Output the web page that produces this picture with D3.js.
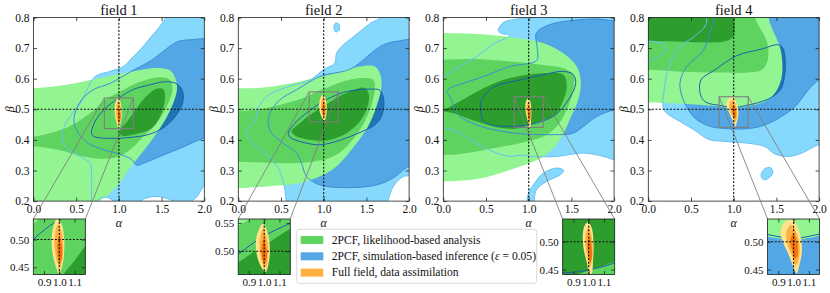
<!DOCTYPE html>
<html><head><meta charset="utf-8">
<script src="https://cdn.jsdelivr.net/npm/d3@7"></script>
<style>
body{margin:0;background:#fff}
text{font-family:"Liberation Serif","DejaVu Serif",serif;fill:#111}
</style>
</head><body>
<svg id="c" width="830" height="293"></svg>
<script>
// ---------------- data ----------------
const fieldTitles = ["field 1", "field 2", "field 3", "field 4"];
const alphaTicks = [0.0, 0.5, 1.0, 1.5, 2.0];
const betaTicks = [0.2, 0.3, 0.4, 0.5, 0.6, 0.7, 0.8];
const alphaDomain = [0, 2];
const betaDomain = [0.2, 0.8];
const trueAlpha = 1.0, trueBeta = 0.5;
const insetAlpha = [0.83, 1.17];
const insetBeta = [[0.437, 0.537], [0.459, 0.557], [0.441, 0.541], [0.441, 0.541]];
const insetAlphaTicks = [0.9, 1.0, 1.1];
const insetBetaTicks = [[0.45, 0.50], [0.50, 0.55], [0.45, 0.50], [0.45, 0.50]];
const legendLabels = ["2PCF, likelihood-based analysis", "2PCF, simulation-based inference (ε = 0.05)", "Full field, data assimilation"];

// contour regions: [outer level, middle level, inner level]; each level = list of polygons of [alpha, beta]
const field1Blue = [
  [[[1.56,0.86],[1.56,0.81],[1.48,0.771],[1.365,0.733],[1.248,0.694],[1.15,0.667],[1.053,0.64],[0.9,0.624],[0.72,0.607],[0.62,0.56],[0.55,0.52],[0.45,0.485],[0.37,0.45],[0.33,0.411],[0.37,0.379],[0.545,0.346],[0.662,0.324],[0.68,0.29],[0.68,0.226],[0.68,0.15],[0.72,0.19],[0.8,0.212],[0.9,0.208],[0.98,0.19],[1.2,0.19],[1.3,0.208],[1.45,0.215],[1.6,0.205],[1.75,0.19],[1.9,0.21],[2.0,0.25],[2.1,0.26],[2.1,0.86]]],
  [[[2.1,0.72],[1.83,0.727],[1.68,0.72],[1.52,0.69],[1.38,0.66],[1.15,0.625],[0.9,0.585],[0.7,0.564],[0.564,0.531],[0.486,0.487],[0.475,0.455],[0.525,0.422],[0.642,0.389],[0.818,0.368],[0.994,0.355],[1.15,0.336],[1.21,0.317],[1.3,0.325],[1.48,0.346],[1.72,0.373],[2.0,0.406],[2.1,0.41]]],
  [[[0.68,0.42],[0.72,0.46],[0.83,0.50],[1.0,0.537],[1.17,0.565],[1.365,0.58],[1.54,0.59],[1.68,0.583],[1.75,0.555],[1.74,0.515],[1.67,0.48],[1.59,0.455],[1.5,0.436],[1.35,0.418],[1.2,0.41],[0.9,0.405],[0.72,0.41]]]
];
const field1Green = [
  [[[-0.1,0.57],[0,0.569],[0.389,0.58],[0.78,0.602],[1.17,0.624],[1.44,0.635],[1.6,0.627],[1.66,0.602],[1.68,0.564],[1.62,0.509],[1.52,0.455],[1.385,0.40],[1.25,0.351],[1.11,0.302],[1.0,0.255],[0.85,0.215],[0.7,0.19],[0.5,0.15],[-0.1,0.15]]],
  [[[-0.1,0.411],[0,0.411],[0.389,0.44],[0.7,0.495],[0.85,0.533],[0.975,0.552],[1.248,0.59],[1.482,0.605],[1.6,0.596],[1.627,0.564],[1.56,0.509],[1.443,0.455],[1.287,0.411],[1.13,0.368],[0.975,0.344],[0.779,0.338],[0.545,0.348],[0.31,0.366],[0,0.379],[-0.1,0.378]]],
  [[[1.0,0.42],[1.026,0.437],[1.1,0.462],[1.17,0.489],[1.25,0.52],[1.35,0.55],[1.45,0.568],[1.52,0.565],[1.54,0.54],[1.50,0.488],[1.385,0.438],[1.21,0.42],[1.06,0.413]]]
];
const field1Orange = [
  [[0.985,0.538],[1.015,0.528],[1.032,0.5],[1.03,0.47],[1.012,0.445],[1.0,0.436],[0.985,0.445],[0.96,0.47],[0.95,0.495],[0.96,0.522]],
  [[0.99,0.527],[1.015,0.515],[1.025,0.49],[1.02,0.465],[1.005,0.45],[0.985,0.46],[0.97,0.485],[0.972,0.51]],
  [[0.997,0.505],[1.012,0.495],[1.02,0.478],[1.012,0.462],[1.0,0.458],[0.99,0.47],[0.987,0.487]]
];

const field2Blue = [
  [[[2.1,0.86],[1.7,0.86],[1.66,0.80],[1.55,0.782],[1.45,0.76],[1.33,0.733],[1.23,0.711],[1.15,0.683],[1.13,0.651],[1.0,0.63],[0.838,0.596],[0.565,0.572],[0.331,0.542],[0.234,0.504],[0.195,0.46],[0.097,0.43],[0.117,0.406],[0.234,0.373],[0.37,0.34],[0.468,0.308],[0.526,0.264],[0.56,0.2],[0.56,0.15],[1.72,0.15],[1.75,0.2],[1.82,0.25],[1.93,0.28],[2.1,0.29]],
   [[1.12,0.77],[1.14,0.782],[1.18,0.778],[1.18,0.758],[1.14,0.753]]],
  [[[2.1,0.72],[1.85,0.722],[1.70,0.711],[1.58,0.689],[1.44,0.656],[1.3,0.63],[0.955,0.607],[0.682,0.564],[0.487,0.531],[0.37,0.487],[0.35,0.453],[0.39,0.422],[0.526,0.389],[0.682,0.357],[0.74,0.324],[0.80,0.28],[0.955,0.253],[1.306,0.244],[1.62,0.253],[1.81,0.275],[2.0,0.313],[2.1,0.31]]],
  [[[0.585,0.422],[0.682,0.46],[0.88,0.505],[1.0,0.527],[1.17,0.549],[1.306,0.56],[1.54,0.566],[1.657,0.562],[1.704,0.531],[1.677,0.477],[1.59,0.447],[1.47,0.43],[1.3,0.41],[1.111,0.392],[0.935,0.384],[0.72,0.395],[0.604,0.409]]]
];
const field2Green = [
  [[[-0.1,0.569],[0,0.569],[0.331,0.572],[0.721,0.591],[1.111,0.618],[1.423,0.64],[1.6,0.64],[1.657,0.618],[1.677,0.575],[1.618,0.509],[1.52,0.444],[1.384,0.389],[1.189,0.324],[1.033,0.291],[0.721,0.259],[0.331,0.248],[0,0.242],[-0.1,0.242]]],
  [[[-0.1,0.493],[0,0.493],[0.331,0.504],[0.643,0.526],[0.83,0.545],[0.91,0.557],[1.05,0.572],[1.228,0.591],[1.462,0.602],[1.579,0.596],[1.598,0.564],[1.54,0.498],[1.423,0.433],[1.267,0.378],[1.111,0.346],[0.877,0.329],[0.526,0.324],[0,0.329],[-0.1,0.329]]],
  [[[0.624,0.428],[0.721,0.455],[0.83,0.48],[1.0,0.51],[1.17,0.54],[1.345,0.562],[1.48,0.57],[1.53,0.547],[1.508,0.504],[1.423,0.46],[1.267,0.422],[1.033,0.398],[0.799,0.402],[0.663,0.414]]]
];
const field2Orange = [
  [[0.99,0.548],[1.02,0.535],[1.037,0.505],[1.03,0.48],[1.01,0.463],[0.99,0.468],[0.955,0.49],[0.945,0.515],[0.96,0.535]],
  [[0.995,0.54],[1.02,0.52],[1.025,0.495],[1.012,0.472],[0.995,0.475],[0.972,0.5],[0.97,0.52]],
  [[1.0,0.523],[1.015,0.505],[1.015,0.485],[1.0,0.478],[0.985,0.49],[0.985,0.51]]
];

const field3Blue = [
  [[[1.3,0.86],[1.1,0.805],[0.86,0.795],[0.70,0.783],[0.645,0.757],[0.68,0.748],[0.78,0.742],[0.7,0.728],[0.605,0.716],[0.39,0.672],[0.195,0.64],[0,0.607],[-0.1,0.6],[-0.1,0.44],[0,0.44],[0.195,0.422],[0.39,0.389],[0.625,0.357],[0.78,0.346],[0.9,0.35],[1.1,0.345],[1.33,0.346],[1.64,0.357],[1.875,0.346],[2.0,0.335],[2.1,0.33],[2.1,0.86]],
   [[0.99,0.18],[1.0,0.23],[1.055,0.253],[1.17,0.291],[1.33,0.308],[1.41,0.30],[1.37,0.286],[1.21,0.264],[1.09,0.237],[1.045,0.18]]],
  [[[2.1,0.79],[1.98,0.79],[1.8,0.795],[1.5,0.79],[1.25,0.777],[1.09,0.75],[1.1,0.70],[1.094,0.66],[0.78,0.64],[0.47,0.607],[0.234,0.585],[0.078,0.569],[0.04,0.558],[0.078,0.542],[0.176,0.482],[0.39,0.449],[0.78,0.424],[1.29,0.417],[1.52,0.422],[1.64,0.444],[1.80,0.477],[2.0,0.498],[2.1,0.50]]],
  [[[0.4375,0.498],[0.449,0.531],[0.586,0.572],[0.898,0.596],[1.172,0.613],[1.406,0.624],[1.523,0.613],[1.55,0.583],[1.465,0.531],[1.328,0.485],[1.17,0.462],[0.9,0.445],[0.7,0.445],[0.586,0.447],[0.469,0.463]]]
];
const field3Green = [
  [[[-0.1,0.75],[0,0.749],[0.39,0.746],[0.78,0.736],[1.172,0.716],[1.406,0.683],[1.5625,0.64],[1.61,0.591],[1.58,0.531],[1.48,0.466],[1.367,0.40],[1.172,0.346],[0.78,0.302],[0.39,0.272],[0,0.264],[-0.1,0.264]]],
  [[[-0.1,0.662],[0,0.662],[0.39,0.664],[0.78,0.656],[1.172,0.645],[1.406,0.634],[1.523,0.613],[1.523,0.564],[1.445,0.498],[1.328,0.444],[1.17,0.411],[0.898,0.389],[0.586,0.373],[0.195,0.354],[0,0.351],[-0.1,0.351]]],
  [[[-0.05,0.497],[0,0.498],[0.195,0.526],[0.469,0.569],[0.78,0.602],[1.172,0.618],[1.406,0.613],[1.445,0.575],[1.406,0.531],[1.328,0.487],[1.25,0.472],[1.17,0.464],[0.976,0.446],[0.88,0.438],[0.70,0.438],[0.39,0.46],[0.117,0.487]]]
];
const field3Orange = [
  [[0.995,0.535],[1.02,0.525],[1.032,0.495],[1.028,0.465],[1.02,0.443],[1.005,0.44],[0.99,0.46],[0.965,0.49],[0.962,0.515],[0.975,0.53]],
  [[1.0,0.525],[1.02,0.51],[1.027,0.485],[1.018,0.46],[1.005,0.455],[0.99,0.475],[0.977,0.5],[0.985,0.52]],
  [[1.005,0.51],[1.02,0.49],[1.02,0.47],[1.008,0.463],[0.995,0.48],[0.993,0.5]]
];

const field4Blue = [
  [[[0.68,0.86],[0.68,0.78],[0.55,0.74],[0.35,0.70],[0.22,0.62],[0.18,0.55],[0.17,0.515],[0.195,0.493],[0.39,0.457],[0.547,0.431],[0.703,0.402],[0.898,0.395],[1.172,0.389],[1.367,0.378],[1.484,0.354],[1.64,0.346],[1.797,0.357],[2.0,0.384],[2.1,0.38],[2.1,0.86]],
   [[-0.1,0.73],[0,0.722],[0.1,0.72],[0.195,0.711],[0.19,0.69],[0.12,0.672],[0.04,0.662],[0,0.651],[-0.1,0.65]],
   [[1.32,0.285],[1.36,0.305],[1.43,0.31],[1.46,0.295],[1.42,0.277],[1.35,0.27]]],
  [[[0.82,0.86],[0.78,0.80],[0.74,0.77],[0.64,0.69],[0.45,0.64],[0.37,0.585],[0.41,0.53],[0.47,0.498],[0.547,0.471],[0.703,0.446],[0.898,0.437],[1.172,0.437],[1.367,0.449],[1.5625,0.477],[1.72,0.509],[1.875,0.564],[2.0,0.596],[2.1,0.6],[2.1,0.86]]],
  [[[0.605,0.555],[0.617,0.596],[0.78,0.629],[1.035,0.675],[1.328,0.697],[1.523,0.711],[1.575,0.70],[1.605,0.65],[1.59,0.60],[1.55,0.565],[1.43,0.537],[1.25,0.519],[1.17,0.514],[1.0,0.506],[0.83,0.513],[0.70,0.52],[0.645,0.53]]]
];
const field4Green = [
  [[[-0.1,0.86],[1.41,0.86],[1.41,0.80],[1.44,0.77],[1.50,0.733],[1.55,0.694],[1.57,0.645],[1.56,0.602],[1.50,0.56],[1.40,0.53],[1.25,0.515],[1.17,0.511],[1.0,0.503],[0.83,0.509],[0.6,0.515],[0.39,0.518],[0,0.522],[-0.1,0.522]]],
  [[[-0.1,0.86],[1.25,0.86],[1.25,0.80],[1.30,0.77],[1.39,0.72],[1.40,0.662],[1.33,0.629],[1.17,0.62],[0.78,0.62],[0.39,0.623],[0,0.629],[-0.1,0.629]]],
  [[[-0.1,0.86],[1.0,0.86],[1.0,0.80],[1.016,0.771],[0.996,0.738],[0.898,0.722],[0.586,0.719],[0.195,0.722],[0,0.725],[-0.1,0.725]]]
];
const field4Orange = [
  [[0.975,0.54],[1.01,0.535],[1.045,0.51],[1.055,0.485],[1.04,0.46],[1.02,0.443],[1.005,0.45],[0.97,0.475],[0.93,0.50],[0.915,0.52],[0.94,0.535]],
  [[0.985,0.53],[1.02,0.515],[1.04,0.49],[1.03,0.465],[1.015,0.458],[0.99,0.475],[0.955,0.50],[0.955,0.52]],
  [[1.0,0.515],[1.025,0.497],[1.025,0.475],[1.01,0.47],[0.99,0.485],[0.98,0.505]]
];

const fields = [
  {blue: field1Blue, green: field1Green, orange: field1Orange},
  {blue: field2Blue, green: field2Green, orange: field2Orange},
  {blue: field3Blue, green: field3Green, orange: field3Orange},
  {blue: field4Blue, green: field4Green, orange: field4Orange}
];

// ---------------- styles ----------------
const blueFill = ["#86d9fd", "#53a7e4", "#1f74b3"];
const blueLine = ["#68c0f2", "#3e8cd6", "#1d5fae"];
const greenFill = ["#92f592", "#5fd35f", "#2d9d2d"];
const orangeFill = ["#ffe28a", "#ffb03e", "#f2730f"];
const legendColors = ["#5fd35f", "#53a7e4", "#ffb03e"];

// ---------------- layout ----------------
const svg = d3.select("#c");
const panelLeft = [33.5, 238.3, 443.3, 648.3];
const PW = 170.8, PT = 17.5, PH = 183.6;
const insetLeft = [33.3, 238.2, 562.7, 767.6];
const IW = 52, IT = 219, IH = 55.5;
const defs = svg.append("defs");

function drawContours(g, x, y, f) {
  const path = d3.line().x(d => x(d[0])).y(d => y(d[1])).curve(d3.curveCatmullRomClosed.alpha(0.5));
  f.blue.forEach((lvl, i) => lvl.forEach(poly =>
    g.append("path").attr("d", path(poly)).attr("fill", blueFill[i])));
  f.green.forEach((lvl, i) => lvl.forEach(poly =>
    g.append("path").attr("d", path(poly)).attr("fill", greenFill[i])));
  f.blue.forEach((lvl, i) => lvl.forEach(poly =>
    g.append("path").attr("d", path(poly)).attr("fill", "none")
      .attr("stroke", blueLine[i]).attr("stroke-width", 1)));
  f.orange.forEach((poly, i) =>
    g.append("path").attr("d", path(poly)).attr("fill", orangeFill[i]));
  const [x0, x1] = x.domain(), [y0, y1] = y.domain();
  g.append("line").attr("x1", x(trueAlpha)).attr("x2", x(trueAlpha)).attr("y1", y(y0)).attr("y2", y(y1))
    .attr("stroke", "#111").attr("stroke-width", 1.1).attr("stroke-dasharray", "2,1.6");
  g.append("line").attr("x1", x(x0)).attr("x2", x(x1)).attr("y1", y(trueBeta)).attr("y2", y(trueBeta))
    .attr("stroke", "#111").attr("stroke-width", 1.1).attr("stroke-dasharray", "2,1.6");
}

function drawAxes(g, x, y, xt, yt, fmtX, fmtY, fs) {
  const tick = 3.5;
  const ax = g.append("g").attr("transform", `translate(0,${y.range()[0]})`)
    .call(d3.axisBottom(x).tickValues(xt).tickFormat(fmtX).tickSizeInner(-tick).tickSizeOuter(0).tickPadding(4));
  const at = g.append("g").attr("transform", `translate(0,${y.range()[1]})`)
    .call(d3.axisTop(x).tickValues(xt).tickFormat("").tickSizeInner(-tick).tickSizeOuter(0));
  const al = g.append("g").attr("transform", `translate(${x.range()[0]},0)`)
    .call(d3.axisLeft(y).tickValues(yt).tickFormat(fmtY).tickSizeInner(-tick).tickSizeOuter(0).tickPadding(4));
  const ar = g.append("g").attr("transform", `translate(${x.range()[1]},0)`)
    .call(d3.axisRight(y).tickValues(yt).tickFormat("").tickSizeInner(-tick).tickSizeOuter(0));
  [ax, at, al, ar].forEach(a => {
    a.select(".domain").remove();
    a.selectAll(".tick line").attr("stroke", "#222").attr("stroke-width", 0.8);
    a.selectAll("text").attr("font-family", "Liberation Serif, DejaVu Serif, serif").attr("font-size", fs).attr("fill", "#111");
  });
  g.append("rect").attr("x", x.range()[0]).attr("y", y.range()[1])
    .attr("width", x.range()[1] - x.range()[0]).attr("height", y.range()[0] - y.range()[1])
    .attr("fill", "none").attr("stroke", "#222").attr("stroke-width", 0.8);
}

fields.forEach((f, i) => {
  const L = panelLeft[i];
  const x = d3.scaleLinear().domain(alphaDomain).range([L, L + PW]);
  const y = d3.scaleLinear().domain(betaDomain).range([PT + PH, PT]);
  const cid = "clipP" + i;
  defs.append("clipPath").attr("id", cid).append("rect")
    .attr("x", L).attr("y", PT).attr("width", PW).attr("height", PH);
  const g = svg.append("g");
  const cg = g.append("g").attr("clip-path", `url(#${cid})`);
  drawContours(cg, x, y, f);
  drawAxes(g, x, y, alphaTicks, betaTicks, d3.format(".1f"), d3.format(".1f"), "11.5px");
  g.append("text").attr("x", L + PW / 2).attr("y", 14.5).attr("text-anchor", "middle")
    .attr("font-size", "14.5px").text(fieldTitles[i]);
  g.append("text").attr("x", x(1.0)).attr("y", 227).attr("text-anchor", "middle")
    .attr("font-size", "12px").attr("font-style", "italic").text("α");
  g.append("text").attr("transform", `translate(${L - 24},${y(0.5)}) rotate(-90)`)
    .attr("text-anchor", "middle").attr("dominant-baseline", "central")
    .attr("font-size", "12px").attr("font-style", "italic").text("β");
});

// inset markers, connectors and insets
fields.forEach((f, i) => {
  const L = panelLeft[i];
  const x = d3.scaleLinear().domain(alphaDomain).range([L, L + PW]);
  const y = d3.scaleLinear().domain(betaDomain).range([PT + PH, PT]);
  const IL = insetLeft[i];
  const xi = d3.scaleLinear().domain(insetAlpha).range([IL, IL + IW]);
  const yi = d3.scaleLinear().domain(insetBeta[i]).range([IT + IH, IT]);
  const g = svg.append("g");
  const rx0 = x(insetAlpha[0]), rx1 = x(insetAlpha[1]);
  const ry1 = y(insetBeta[i][1]), ry0 = y(insetBeta[i][0]);
  g.append("rect").attr("x", rx0).attr("y", ry1).attr("width", rx1 - rx0).attr("height", ry0 - ry1)
    .attr("fill", "none").attr("stroke", "#7f7f7f").attr("stroke-width", 1.1);
  g.append("line").attr("x1", rx0).attr("y1", ry1).attr("x2", xi(insetAlpha[0])).attr("y2", yi(insetBeta[i][1]))
    .attr("stroke", "#7f7f7f").attr("stroke-width", 0.9);
  g.append("line").attr("x1", rx1).attr("y1", ry1).attr("x2", xi(insetAlpha[1])).attr("y2", yi(insetBeta[i][1]))
    .attr("stroke", "#7f7f7f").attr("stroke-width", 0.9);

  const cid = "clipI" + i;
  defs.append("clipPath").attr("id", cid).append("rect")
    .attr("x", IL).attr("y", IT).attr("width", IW).attr("height", IH);
  const ig = svg.append("g");
  const icg = ig.append("g").attr("clip-path", `url(#${cid})`);
  icg.append("rect").attr("x", IL).attr("y", IT).attr("width", IW).attr("height", IH).attr("fill", "#fff");
  drawContours(icg, xi, yi, f);
  drawAxes(ig, xi, yi, insetAlphaTicks, insetBetaTicks[i], d3.format(".1f"), d3.format(".2f"), "11px");
});

// legend
const lg = svg.append("g");
lg.append("rect").attr("x", 296.7).attr("y", 229.3).attr("width", 240).attr("height", 54)
  .attr("rx", 2.5).attr("fill", "#fff").attr("stroke", "#d0d0d0").attr("stroke-width", 0.8);
legendLabels.forEach((t, k) => {
  const cy = 240 + k * 16.3;
  lg.append("rect").attr("x", 300.7).attr("y", cy - 4).attr("width", 22.6).attr("height", 8).attr("fill", legendColors[k]);
  const tx = lg.append("text").attr("x", 331.7).attr("y", cy + 3.8).attr("font-size", "11.6px");
  if (t.includes("ε")) {
    const parts = t.split("ε");
    tx.append("tspan").text(parts[0]);
    tx.append("tspan").attr("font-style", "italic").text("ε");
    tx.append("tspan").text(parts[1]);
  } else tx.text(t);
});
</script>
</body></html>
